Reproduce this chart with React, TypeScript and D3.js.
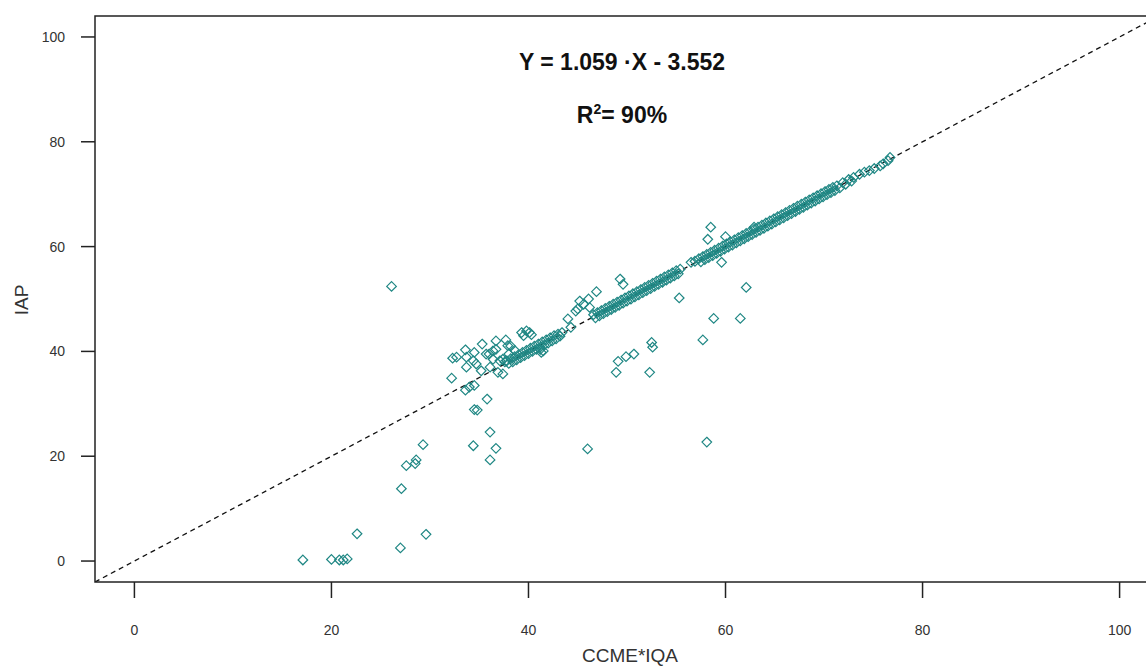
import React from "react";
import * as d3 from "d3";

type P = [number, number];

const xTicks = [0, 20, 40, 60, 80, 100];
const yTicks = [0, 20, 40, 60, 80, 100];
const xLabel = "CCME*IQA";
const yLabel = "IAP";
const equation = "Y = 1.059 \u00B7X - 3.552";

// scattered points, lower-left
const lowPoints: P[] = [
  [17.1, 0.2], [20.0, 0.3], [20.8, 0.2], [21.2, 0.2], [21.6, 0.4], [22.6, 5.2],
  [27.0, 2.5], [29.6, 5.1], [27.1, 13.8], [27.6, 18.2], [28.5, 18.6], [28.6, 19.3],
  [29.3, 22.2], [34.4, 22.0], [36.1, 24.6], [36.7, 21.5], [36.1, 19.3], [35.8, 30.9],
  [34.5, 28.9], [34.8, 28.8], [33.6, 32.6], [34.0, 33.2], [34.5, 33.5], [32.2, 34.9],
];

// cluster around 32-42
const clusterPoints: P[] = [
  [32.3, 38.7], [32.7, 38.9], [33.6, 40.3], [33.7, 38.9], [33.7, 37.0], [34.4, 38.2],
  [34.5, 39.8], [34.7, 37.6], [35.3, 41.4], [35.2, 36.3], [35.7, 39.5], [36.0, 39.5],
  [36.1, 37.0], [36.4, 38.5], [36.4, 40.1], [36.7, 40.4], [36.7, 42.0], [36.9, 36.0],
  [37.1, 38.2], [37.4, 35.7], [37.4, 38.5], [37.7, 42.2], [37.9, 41.1], [39.3, 43.6],
  [39.5, 43.0], [39.8, 43.9], [40.1, 43.6], [40.3, 43.2], [41.2, 40.4], [41.5, 40.1],
  [41.3, 39.8], [38.2, 41.0], [38.6, 40.2], [37.6, 38.0], [38.0, 39.5],
];

// points lying on the 1:1 line
const bandPoints: P[] = [
  [37.8, 38.2], [38.0, 37.7], [38.2, 38.6], [38.4, 38.0], [38.6, 39.0], [38.8, 38.4],
  [39.0, 39.4], [39.2, 38.8], [39.4, 39.8], [39.6, 39.2], [39.8, 40.2], [40.0, 39.6],
  [40.2, 40.6], [40.4, 40.0], [40.6, 41.0], [40.8, 40.4], [41.0, 41.4], [41.2, 40.8],
  [41.4, 41.8], [41.6, 41.2], [41.8, 42.2], [42.0, 41.6], [42.2, 42.6], [42.4, 42.0],
  [42.6, 43.0], [42.8, 42.4], [43.0, 43.3], [43.2, 42.9], [43.4, 43.6],
  [46.6, 47.0], [46.8, 46.4], [47.0, 47.4], [47.2, 46.8], [47.4, 47.8], [47.6, 47.2],
  [47.8, 48.2], [48.0, 47.6], [48.2, 48.6], [48.4, 48.0], [48.6, 49.0], [48.8, 48.4],
  [49.0, 49.4], [49.2, 48.8], [49.4, 49.8], [49.6, 49.2], [49.8, 50.2], [50.0, 49.6],
  [50.2, 50.6], [50.4, 50.0], [50.6, 51.0], [50.8, 50.4], [51.0, 51.4], [51.2, 50.8],
  [51.4, 51.8], [51.6, 51.2], [51.8, 52.2], [52.0, 51.6], [52.2, 52.6], [52.4, 52.0],
  [52.6, 53.0], [52.8, 52.4], [53.0, 53.4], [53.2, 52.8], [53.4, 53.8], [53.6, 53.2],
  [53.8, 54.2], [54.0, 53.6], [54.2, 54.6], [54.4, 54.0], [54.6, 55.0], [54.8, 54.4],
  [55.0, 55.4], [55.2, 54.8], [55.4, 55.7],
  [57.3, 57.7], [57.5, 57.1], [57.7, 58.1], [57.9, 57.5], [58.1, 58.5], [58.3, 57.9],
  [58.5, 58.9], [58.7, 58.3], [58.9, 59.3], [59.1, 58.7], [59.3, 59.7], [59.5, 59.1],
  [59.7, 60.1], [59.9, 59.5], [60.1, 60.5], [60.3, 59.9], [60.5, 60.9], [60.7, 60.3],
  [60.9, 61.3], [61.1, 60.7], [61.3, 61.7], [61.5, 61.1], [61.7, 62.1], [61.9, 61.5],
  [62.1, 62.5], [62.3, 61.9], [62.5, 62.9], [62.7, 62.3], [62.9, 63.3], [63.1, 62.7],
  [63.3, 63.7], [63.5, 63.1], [63.7, 64.1], [63.9, 63.5], [64.1, 64.5], [64.3, 63.9],
  [64.5, 64.9], [64.7, 64.3], [64.9, 65.3], [65.1, 64.7], [65.3, 65.7], [65.5, 65.1],
  [65.7, 66.1], [65.9, 65.5], [66.1, 66.5], [66.3, 65.9], [66.5, 66.9], [66.7, 66.3],
  [66.9, 67.3], [67.1, 66.7], [67.3, 67.7], [67.5, 67.1], [67.7, 68.1], [67.9, 67.5],
  [68.1, 68.5], [68.3, 67.9], [68.5, 68.9], [68.7, 68.3], [68.9, 69.3], [69.1, 68.7],
  [69.3, 69.7], [69.5, 69.1], [69.7, 70.1], [69.9, 69.5], [70.1, 70.5], [70.3, 69.9],
  [70.5, 70.9], [70.7, 70.3], [70.9, 71.3], [71.1, 70.7], [71.3, 71.6], [71.6, 71.2],
  [71.9, 72.2], [72.2, 71.9], [72.5, 72.8], [72.8, 72.5], [73.0, 73.2],
  [73.6, 73.8], [74.1, 74.2], [74.6, 74.5], [75.1, 74.9], [75.7, 75.4], [76.0, 75.8],
  [76.5, 76.4], [76.7, 77.0],
  [44.0, 46.2], [44.8, 47.7], [45.0, 48.1], [45.2, 49.6], [46.1, 50.0], [46.2, 48.4],
  [46.9, 51.4], [45.6, 49.0], [44.3, 44.6], [56.5, 57.0], [56.9, 57.2],
];

// outliers
const outlierPoints: P[] = [
  [26.1, 52.4], [49.3, 53.8], [49.6, 52.8], [55.3, 50.2], [52.5, 41.7], [52.6, 40.8],
  [52.3, 36.0], [48.9, 36.0], [49.1, 38.1], [49.9, 39.0], [50.7, 39.5], [46.0, 21.4],
  [58.1, 22.7], [57.7, 42.2], [58.8, 46.3], [61.5, 46.3], [62.1, 52.2], [59.6, 57.0],
  [58.2, 61.4], [58.5, 63.7], [62.9, 63.7], [60.0, 61.9],
];

const W = 1146;
const H = 669;
const left = 95;
const right = 1159;
const top = 16;
const bottom = 582;

export default function App() {
  const x = d3.scaleLinear().domain([-4, 104]).range([left, right]);
  const y = d3.scaleLinear().domain([-4, 104]).range([bottom, top]);
  const all = [...lowPoints, ...clusterPoints, ...bandPoints, ...outlierPoints];
  const r = 4.8;
  const diamond = (cx: number, cy: number) => {
    const p = d3.path();
    p.moveTo(cx, cy - r);
    p.lineTo(cx + r, cy);
    p.lineTo(cx, cy + r);
    p.lineTo(cx - r, cy);
    p.closePath();
    return p.toString();
  };
  const line = d3.line<number>().x((d) => x(d)).y((d) => y(d));
  const font = "Arial, 'Liberation Sans', sans-serif";
  return (
    <svg width={W} height={H} style={{ position: "absolute", left: 0, top: 0, background: "#fff" }}>
      <defs>
        <clipPath id="plotclip">
          <rect x={left} y={top} width={right - left} height={bottom - top} />
        </clipPath>
      </defs>
      <rect x={0} y={0} width={W} height={H} fill="#fff" />
      <g clipPath="url(#plotclip)">
        <path d={line([-4, 104]) || ""} stroke="#111" strokeWidth={1.3} strokeDasharray="5,4" fill="none" />
        {all.map((d, i) => (
          <path key={i} d={diamond(x(d[0]), y(d[1]))} fill="none" stroke="#1f8784" strokeWidth={1.2} />
        ))}
      </g>
      <rect x={left} y={top} width={right - left} height={bottom - top} fill="none" stroke="#222" strokeWidth={1.5} />
      {xTicks.map((t) => (
        <g key={"x" + t}>
          <line x1={x(t)} x2={x(t)} y1={bottom} y2={bottom + 16} stroke="#222" strokeWidth={1.5} />
          <text x={x(t)} y={635} textAnchor="middle" fontSize={14} fill="#333" fontFamily={font}>{t}</text>
        </g>
      ))}
      {yTicks.map((t) => (
        <g key={"y" + t}>
          <line x1={left - 14} x2={left} y1={y(t)} y2={y(t)} stroke="#222" strokeWidth={1.5} />
          <text x={65} y={y(t) + 5} textAnchor="end" fontSize={14} fill="#333" fontFamily={font}>{t}</text>
        </g>
      ))}
      <text x={630} y={662} textAnchor="middle" fontSize={19} fill="#333" fontFamily={font}>{xLabel}</text>
      <text transform={`translate(28,300) rotate(-90)`} textAnchor="middle" fontSize={19} fill="#333" fontFamily={font}>{yLabel}</text>
      <text x={622} y={70} textAnchor="middle" fontSize={23} fontWeight="bold" fill="#111" fontFamily={font}>{equation}</text>
      <text x={622} y={123} textAnchor="middle" fontSize={23} fontWeight="bold" fill="#111" fontFamily={font}>
        R<tspan dy={-9} fontSize={14}>2</tspan><tspan dy={9}>= 90%</tspan>
      </text>
    </svg>
  );
}
